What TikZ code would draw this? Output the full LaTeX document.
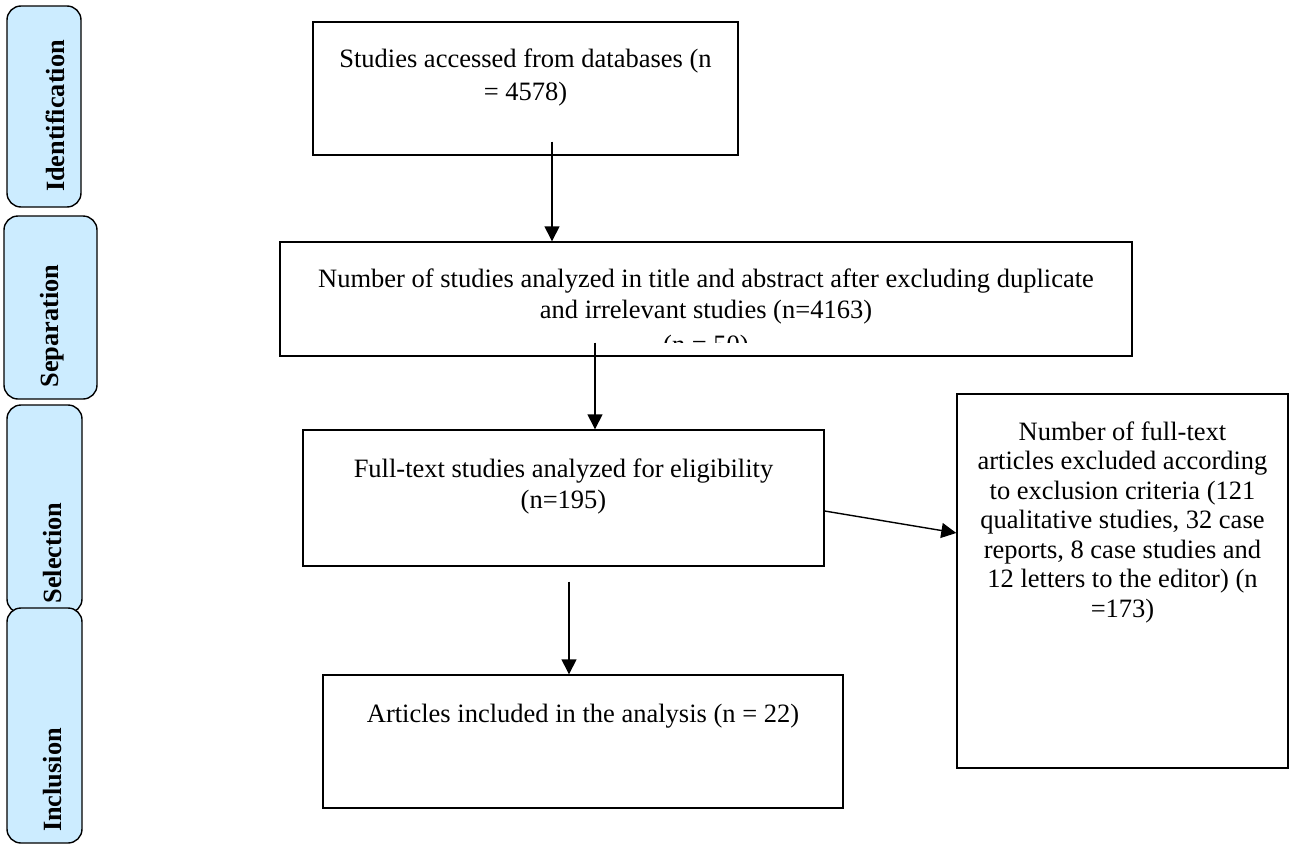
\documentclass[tikz,border=0pt]{standalone}
\usepackage{fontspec}
\setmainfont{Liberation Serif}
\usetikzlibrary{arrows.meta}
\definecolor{lanefill}{RGB}{204,236,255}
\begin{document}
\begin{tikzpicture}[x=1pt,y=-1pt,
  lanebox/.style={draw=black, line width=1.4pt, fill=lanefill, rounded corners=14pt, inner sep=0pt},
  lanelabel/.style={rotate=90, font=\fontsize{26.3}{30}\selectfont\bfseries, inner sep=0pt},
  flowbox/.style={draw=black, line width=1.4pt, fill=white, inner sep=0pt},
  flowtext/.style={align=center, inner sep=0pt, anchor=base, font=\fontsize{26.5}{31}\selectfont},
  arr/.style={line width=1.4pt, -{Triangle[length=15pt,width=15pt]}}]
\useasboundingbox (0,0) rectangle (1291,846);

% lanes
\node[lanebox, minimum width=74, minimum height=201] (L1) at (44,106.5) {};
\node[lanebox, minimum width=93, minimum height=183] (L2) at (50.5,307.5) {};
\node[lanebox, minimum width=75, minimum height=208] (L3) at (44.5,509) {};
\node[lanebox, minimum width=75, minimum height=235] (L4) at (44.5,725.5) {};
\node[lanelabel] (l1) at (55,116) {Identification};
\node[lanelabel] (l2) at (52,326) {Separation};
\node[lanelabel] (l3) at (53,553) {Selection};
\node[lanelabel] (l4) at (53,780) {Inclusion};

% boxes
\node[flowbox, minimum width=425, minimum height=133] (b1) at (525.5,88.5) {};
\node[flowbox, minimum width=852, minimum height=114] (b2) at (706,299) {};
\node[flowbox, minimum width=521, minimum height=136] (b3) at (563.5,498) {};
\node[flowbox, minimum width=331, minimum height=374] (b4) at (1122.5,581) {};
\node[flowbox, minimum width=520, minimum height=133] (b5) at (583,741.5) {};

% texts (anchor = baseline of last line)
\node[flowtext, font=\fontsize{26.5}{33}\selectfont] (t1) at (525.5,100) {Studies accessed from databases (n\\= 4578)};
\node[flowtext] (t2) at (706,318) {Number of studies analyzed in title and abstract after excluding duplicate\\and irrelevant studies (n=4163)};
\begin{scope}
  \clip (640,334) rectangle (780,342);
  \node[flowtext] (t2c) at (706,353) {(n = 50)};
\end{scope}
\node[flowtext] (t3) at (563.5,508) {Full-text studies analyzed for eligibility\\(n=195)};
\node[flowtext, font=\fontsize{26.5}{29.5}\selectfont] (t4) at (1122.5,617) {Number of full-text\\articles excluded according\\to exclusion criteria (121\\qualitative studies, 32 case\\reports, 8 case studies and\\12 letters to the editor) (n\\=173)};
\node[flowtext] (t5) at (583,722) {Articles included in the analysis (n = 22)};

% arrows
\draw[arr] ([xshift=26.5pt,yshift=14pt]b1.south) coordinate (s1) -- (s1 |- b2.north);
\draw[arr] ([xshift=-111pt,yshift=14pt]b2.south) coordinate (s2) -- (s2 |- b3.north);
\draw[arr] ([yshift=-13pt]b3.east) -- ([yshift=48pt]b4.west);
\draw[arr] ([xshift=5.5pt,yshift=-15pt]b3.south) coordinate (s4) -- (s4 |- b5.north);
\end{tikzpicture}
\end{document}
